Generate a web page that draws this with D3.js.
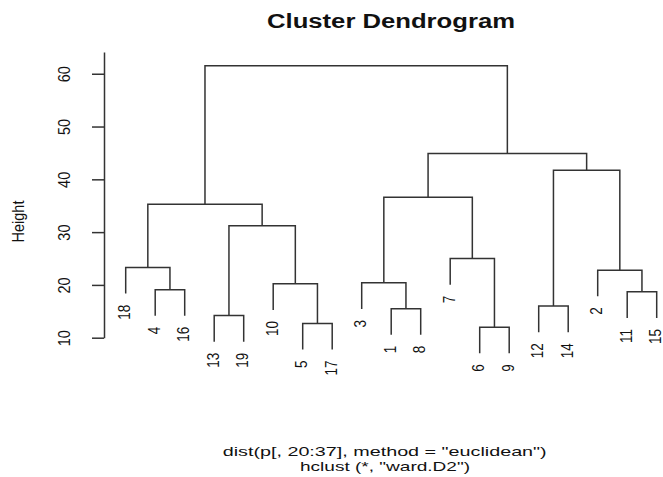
<!DOCTYPE html>
<html>
<head>
<meta charset="utf-8">
<script src="https://cdn.jsdelivr.net/npm/d3@7"></script>
<style>
  body { margin: 0; background: #fff; }
  text { font-family: "Liberation Sans", Arial, sans-serif; fill: #111; }
</style>
</head>
<body>
<div id="chart"></div>
<script>
// merge steps in R hclust style: negative = leaf number, positive = earlier step
var mergeA = [-6, -5, -13, -1, -12, -11, -4, -10, -3, -2, -18, -7, 3, 11, 9, 5, 15, 14];
var mergeB = [-9, -17, -19, -8, -14, -15, -16, 2, 4, 6, 7, 1, 8, 13, 12, 10, 16, 17];
var mergeHeight = [12.0, 12.7, 14.2, 15.5, 16.0, 18.7, 19.1, 20.2, 20.4, 22.8, 23.3, 25.0, 31.2, 35.3, 36.6, 41.7, 44.9, 61.5];
var yTicks = [10, 20, 30, 40, 50, 60];

var width = 663, height = 477;
var svg = d3.select('#chart').append('svg').attr('width', width).attr('height', height);

// build the tree
function makeNode(id) {
    if (id < 0) return { label: String(-id) };
    var i = id - 1;
    return { h: mergeHeight[i], children: [makeNode(mergeA[i]), makeNode(mergeB[i])] };
}
var root = d3.hierarchy(makeNode(mergeA.length));
var leaves = root.leaves();

var hMin = d3.min(mergeHeight), hMax = d3.max(mergeHeight);
var hang = 0.1 * (hMax - hMin);

// ESCALAS
var x = d3.scalePoint()
    .domain(leaves.map(function (d) { return d.data.label; }))
    .range([125.7, 656.7]);
var y = d3.scaleLinear().domain([10, 64.1]).range([337.7, 52.1]);

root.eachAfter(function (n) {
    if (!n.children) n.px = x(n.data.label);
    else n.px = d3.mean(n.children, function (c) { return c.px; });
});

function topY(c) {
    if (c.children) return y(c.data.h);
    return y(c.parent.data.h - hang);
}

// ramas
var g = svg.append('g');
g.selectAll('path.branch')
    .data(root.descendants().filter(function (d) { return d.children; }))
    .enter().append('path')
    .attr('class', 'branch')
    .attr('fill', 'none')
    .attr('stroke', '#333')
    .attr('stroke-width', 1.5)
    .attr('d', function (n) {
        var a = n.children[0], b = n.children[1];
        return 'M' + a.px + ',' + topY(a) + 'V' + y(n.data.h) + 'H' + b.px + 'V' + topY(b);
    });

// etiquetas de hojas (glifos algo estirados en horizontal, como en la imagen)
g.selectAll('text.leaf')
    .data(leaves)
    .enter().append('text')
    .attr('class', 'leaf')
    .attr('font-size', 13.5)
    .attr('text-anchor', 'end')
    .attr('dy', '0.35em')
    .attr('transform', function (d) { return 'translate(' + (d.px - 1.2) + ',' + (topY(d) + 11) + ') scale(1.2,1) rotate(-90)'; })
    .text(function (d) { return d.data.label; });

// EJE Y
var axis = svg.append('g')
    .attr('transform', 'translate(104,0)')
    .call(d3.axisLeft(y).tickValues(yTicks).tickSizeInner(12).tickSizeOuter(0).tickFormat(d3.format('d')));
axis.select('.domain').attr('stroke', '#333').attr('stroke-width', 1.5);
axis.selectAll('.tick line').attr('stroke', '#333').attr('stroke-width', 1.5);
axis.selectAll('.tick text')
    .attr('x', null).attr('y', null)
    .attr('dy', '0.35em')
    .attr('text-anchor', 'middle')
    .attr('font-size', 14.5)
    .attr('font-family', '"Liberation Sans", Arial, sans-serif')
    .attr('fill', '#111')
    .attr('transform', 'translate(-39.5,0) scale(1.15,1) rotate(-90)');

svg.append('text')
    .attr('transform', 'translate(18,221.5) scale(1.2,1) rotate(-90)')
    .attr('dy', '0.35em')
    .attr('text-anchor', 'middle')
    .attr('font-size', 14.5)
    .text('Height');

// TITULO
svg.append('text')
    .attr('x', 391).attr('y', 28)
    .attr('text-anchor', 'middle')
    .attr('font-size', 19.5)
    .attr('font-weight', 'bold')
    .attr('textLength', 248).attr('lengthAdjust', 'spacingAndGlyphs')
    .text('Cluster Dendrogram');

svg.append('text')
    .attr('x', 384.7).attr('y', 455.5)
    .attr('text-anchor', 'middle')
    .attr('font-size', 13)
    .attr('textLength', 324).attr('lengthAdjust', 'spacingAndGlyphs')
    .text('dist(p[, 20:37], method = "euclidean")');
svg.append('text')
    .attr('x', 385).attr('y', 471)
    .attr('text-anchor', 'middle')
    .attr('font-size', 13)
    .attr('textLength', 170).attr('lengthAdjust', 'spacingAndGlyphs')
    .text('hclust (*, "ward.D2")');
</script>
</body>
</html>
